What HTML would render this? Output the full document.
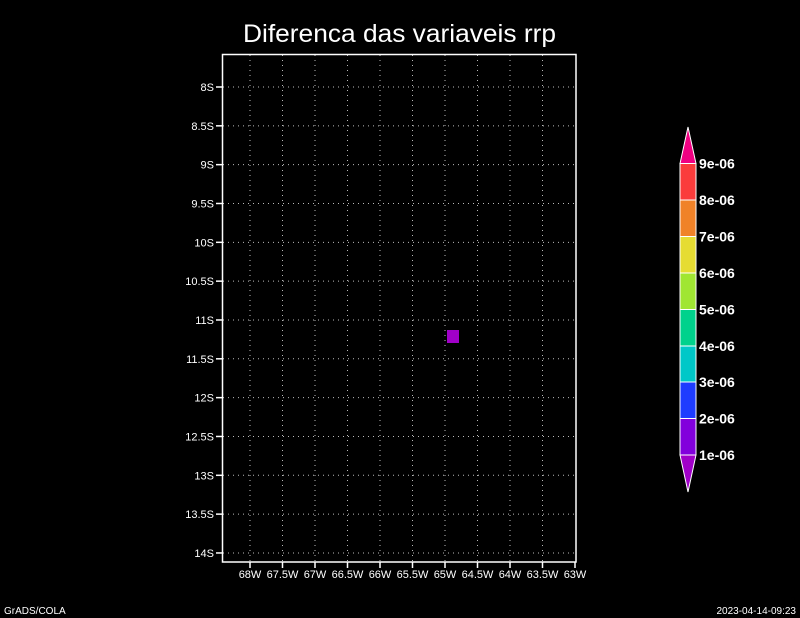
<!DOCTYPE html>
<html><head><style>html,body{margin:0;padding:0;background:#000;}svg{display:block}</style></head>
<body>
<svg id="s" width="800" height="618" xmlns="http://www.w3.org/2000/svg" font-family="Liberation Sans, sans-serif">
<rect width="800" height="618" fill="#000"/>
<text x="243" y="42" font-size="25" fill="#fff" textLength="313" lengthAdjust="spacingAndGlyphs">Diferenca das variaveis rrp</text>
<g id="grid" stroke="#bbb" stroke-width="1" stroke-dasharray="1,4"></g>
<rect x="447" y="330" width="12" height="13" fill="#a000c8"/>
<rect x="222.5" y="54.5" width="353.5" height="507.5" fill="none" stroke="#fff" stroke-width="1.5"/>
<g id="ticks" stroke="#fff" stroke-width="1.5"></g>
<g id="labs" fill="#fff" font-size="11"></g>
<g id="cb"></g>
<text x="4" y="614" font-size="10" fill="#fff">GrADS/COLA</text>
<text x="796" y="614" font-size="10" fill="#fff" text-anchor="end">2023-04-14-09:23</text>
</svg>
<script>
const NS="http://www.w3.org/2000/svg";
function el(p,t,a,txt){const e=document.createElementNS(NS,t);for(const k in a)e.setAttribute(k,a[k]);if(txt)e.textContent=txt;document.getElementById(p).appendChild(e);}
const ylab=["8S","8.5S","9S","9.5S","10S","10.5S","11S","11.5S","12S","12.5S","13S","13.5S","14S"];
for(let i=0;i<13;i++){const y=87+i*38.83;
 el("grid","line",{x1:223,x2:575,y1:y,y2:y});
 el("ticks","line",{x1:216,x2:222,y1:y,y2:y});
 el("labs","text",{x:214,y:y+4,"text-anchor":"end"},ylab[i]);}
const xlab=["68W","67.5W","67W","66.5W","66W","65.5W","65W","64.5W","64W","63.5W","63W"];
for(let i=0;i<11;i++){const x=250+i*32.5;
 if(i<10)el("grid","line",{x1:x,x2:x,y1:55,y2:561});
 el("ticks","line",{x1:x,x2:x,y1:562,y2:568});
 el("labs","text",{x:x,y:578,"text-anchor":"middle"},xlab[i]);}
const cols=["#8200dc","#1e3cff","#00c8c8","#00d28c","#a0e632","#e6dc32","#f08228","#fa3c3c"];
const b=[455,418.5,382,346,309.5,273,236.5,200,163.5];
for(let i=0;i<8;i++){el("cb","rect",{x:680,y:b[i+1],width:16,height:b[i]-b[i+1],fill:cols[i],stroke:"#fff","stroke-width":1});}
el("cb","polygon",{points:"680,455 696,455 688,492",fill:"#a000c8",stroke:"#fff","stroke-width":1});
el("cb","polygon",{points:"680,163.5 696,163.5 688,127",fill:"#f00082",stroke:"#fff","stroke-width":1});
for(let i=0;i<9;i++){el("cb","text",{x:699,y:b[i]+5,fill:"#fff","font-size":14,"font-weight":"bold"},(i+1)+"e-06");}
</script>
</body></html>
